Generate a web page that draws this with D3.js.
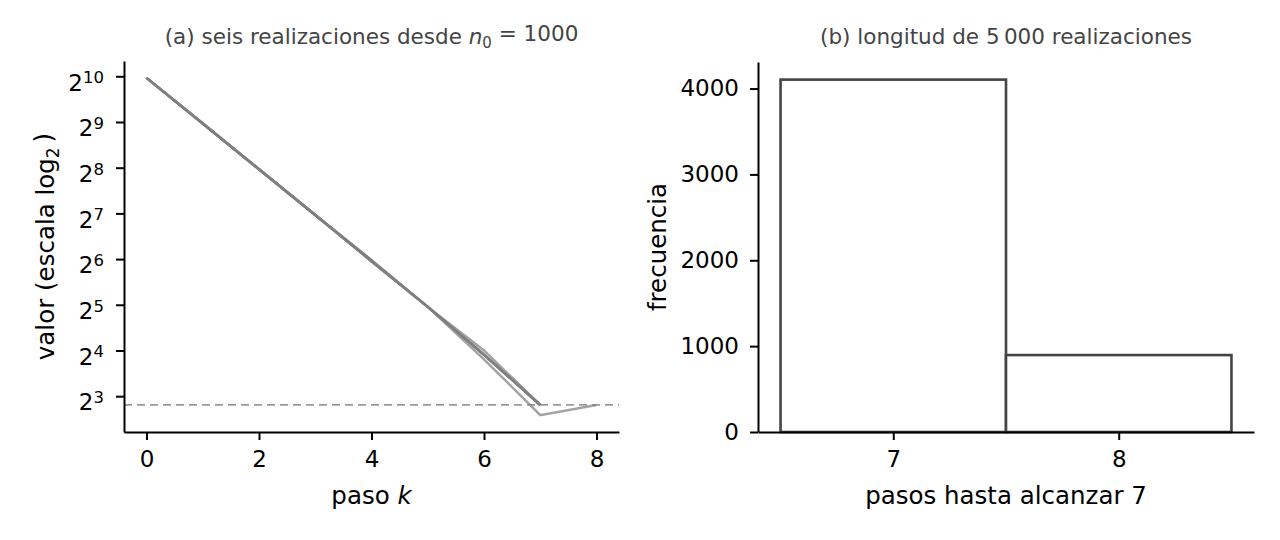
<!DOCTYPE html>
<html>
<head>
<meta charset="utf-8">
<script src="https://cdn.jsdelivr.net/npm/d3@7"></script>
<style>
  body { margin: 0; background: #fff; }
  svg text { font-family: "DejaVu Sans", sans-serif; }
</style>
</head>
<body>
<script>
// panel (a): six realizations, value at each step
const steps = [0, 1, 2, 3, 4, 5, 6, 7, 8]
const realizations = [
    [1000, 500, 250, 125, 62, 31, 15, 7],
    [1000, 500, 250, 125, 63, 31, 15, 7],
    [1000, 500, 250, 125, 62, 31, 16, 7],
    [1000, 500, 250, 125, 63, 31, 15, 7],
    [1000, 500, 250, 125, 62, 31, 15, 7],
    [1000, 500, 250, 125, 62, 31, 14, 6, 7]
]
const target = 7
const yTickExps = [3, 4, 5, 6, 7, 8, 9, 10]
const xTicksA = [0, 2, 4, 6, 8]

// panel (b): histogram of steps needed to reach 7
const histBins = [7, 8]
const histCounts = [4104, 896]
const yTicksB = [0, 1000, 2000, 3000, 4000]

const width = 1280, height = 540
const svg = d3.select("body").append("svg")
    .attr("width", width)
    .attr("height", height)

const tickFont = "23px"
const labelFont = "24.5px"
const titleFont = "21.5px"

// ---------- panel (a) ----------
const a = { left: 124, right: 619, top: 61, bottom: 432 }

const allVals = realizations.flat()
const lo = Math.log2(d3.min(allVals)), hi = Math.log2(d3.max(allVals))
const padY = (hi - lo) * 0.05
const yA = d3.scaleLog().base(2)
    .domain([2 ** (lo - padY), 2 ** (hi + padY)])
    .range([a.bottom, a.top])

const xA = d3.scaleLinear()
    .domain([-0.4, 8.4])
    .range([a.left, a.right])

const gA = svg.append("g")

// dashed reference line at 7
gA.append("line")
    .attr("x1", a.left).attr("x2", a.right)
    .attr("y1", yA(target)).attr("y2", yA(target))
    .attr("stroke", "#999")
    .attr("stroke-width", 1.8)
    .attr("stroke-dasharray", "8,5")

const line = d3.line()
    .x((d, i) => xA(steps[i]))
    .y(d => yA(d))

gA.selectAll("path.real")
    .data(realizations)
    .join("path")
    .attr("class", "real")
    .attr("d", line)
    .attr("fill", "none")
    .attr("stroke", "#808080")
    .attr("stroke-opacity", 0.72)
    .attr("stroke-width", 2.5)

const xAxisA = gA.append("g")
    .attr("transform", `translate(0,${a.bottom})`)
    .call(d3.axisBottom(xA).tickValues(xTicksA).tickSize(8).tickSizeOuter(0).tickPadding(11))
const yAxisA = gA.append("g")
    .attr("transform", `translate(${a.left},0)`)
    .call(d3.axisLeft(yA).tickValues(yTickExps.map(e => 2 ** e)).tickSize(8).tickSizeOuter(0).tickPadding(12).tickFormat(""))

yAxisA.selectAll(".tick text")
    .each(function(d) {
        const t = d3.select(this)
        t.text("2")
        t.append("tspan")
            .attr("dy", "-0.45em")
            .style("font-size", "16.5px")
            .text(Math.round(Math.log2(d)))
    })
    .attr("dy", "0.6em")

// ---------- panel (b) ----------
const b = { left: 758, right: 1254, top: 62, bottom: 432 }

const xB = d3.scaleLinear()
    .domain([histBins[0] - 0.5 - 0.1, histBins[histBins.length - 1] + 0.5 + 0.1])
    .range([b.left, b.right])
const yB = d3.scaleLinear()
    .domain([0, d3.max(histCounts) * 1.05])
    .range([b.bottom, b.top])

const gB = svg.append("g")

gB.selectAll("rect.bar")
    .data(histBins)
    .join("rect")
    .attr("class", "bar")
    .attr("x", d => xB(d - 0.5))
    .attr("width", d => xB(d + 0.5) - xB(d - 0.5))
    .attr("y", (d, i) => yB(histCounts[i]))
    .attr("height", (d, i) => yB(0) - yB(histCounts[i]))
    .attr("fill", "#fff")
    .attr("stroke", "#444")
    .attr("stroke-width", 2.6)

const xAxisB = gB.append("g")
    .attr("transform", `translate(0,${b.bottom})`)
    .call(d3.axisBottom(xB).tickValues(histBins).tickSize(8).tickSizeOuter(0).tickPadding(11).tickFormat(d3.format("d")))
const yAxisB = gB.append("g")
    .attr("transform", `translate(${b.left},0)`)
    .call(d3.axisLeft(yB).tickValues(yTicksB).tickSize(8).tickSizeOuter(0).tickPadding(11).tickFormat(d3.format("d")))

// axis styling
svg.selectAll(".domain").attr("stroke", "#000").attr("stroke-width", 2)
svg.selectAll(".tick line").attr("stroke", "#000").attr("stroke-width", 2)
svg.selectAll(".tick text")
    .attr("fill", "#000")
    .style("font-family", "DejaVu Sans")
    .style("font-size", tickFont)

// ---------- labels ----------
gA.append("text")
    .attr("x", (a.left + a.right) / 2).attr("y", 44)
    .attr("text-anchor", "middle")
    .attr("fill", "#444")
    .style("font-size", titleFont)
    .call(t => {
        t.append("tspan").text("(a) seis realizaciones desde ")
        t.append("tspan").style("font-style", "italic").text("n")
        t.append("tspan").attr("dy", "0.25em").style("font-size", "15px").text("0")
        t.append("tspan").attr("dy", "-0.3em").text(" = 1000")
    })

gB.append("text")
    .attr("x", (b.left + b.right) / 2).attr("y", 44)
    .attr("text-anchor", "middle")
    .attr("fill", "#444")
    .style("font-size", titleFont)
    .text("(b) longitud de 5\u2009000 realizaciones")

gA.append("text")
    .attr("x", (a.left + a.right) / 2).attr("y", 504)
    .attr("text-anchor", "middle")
    .style("font-size", labelFont)
    .call(t => {
        t.append("tspan").text("paso ")
        t.append("tspan").style("font-style", "italic").text("k")
    })

gB.append("text")
    .attr("x", (b.left + b.right) / 2).attr("y", 504)
    .attr("text-anchor", "middle")
    .style("font-size", labelFont)
    .text("pasos hasta alcanzar 7")

gA.append("text")
    .attr("transform", `translate(54,${(a.top + a.bottom) / 2}) rotate(-90)`)
    .attr("text-anchor", "middle")
    .style("font-size", labelFont)
    .call(t => {
        t.append("tspan").text("valor (escala log")
        t.append("tspan").attr("dy", "0.3em").style("font-size", "17px").text("2")
        t.append("tspan").attr("dy", "-0.3em").text("\u2009)")
    })

gB.append("text")
    .attr("transform", `translate(666,${(b.top + b.bottom) / 2}) rotate(-90)`)
    .attr("text-anchor", "middle")
    .style("font-size", labelFont)
    .text("frecuencia")
</script>
</body>
</html>
